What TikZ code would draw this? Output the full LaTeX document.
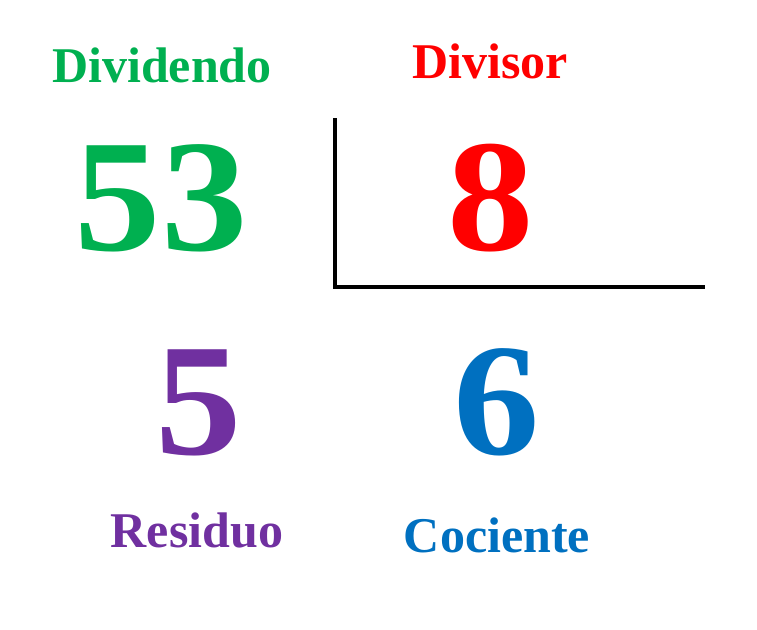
\documentclass[tikz,border=0pt]{standalone}
\usepackage{fontspec}
\setmainfont{Liberation Serif}
\definecolor{cgreen}{HTML}{00B050}
\definecolor{cred}{HTML}{FF0000}
\definecolor{cpurple}{HTML}{7030A0}
\definecolor{cblue}{HTML}{0070C0}
\begin{document}
\begin{tikzpicture}[x=1pt,y=-1pt,
  lbl/.style={inner sep=0pt,anchor=base,font=\fontsize{50}{50}\selectfont\bfseries},
  big/.style={inner sep=0pt,anchor=base,xscale=1.08,font=\fontsize{160}{160}\selectfont\bfseries},
  bar/.style={line width=4pt}]
\useasboundingbox (0,0) rectangle (757,629);
\node[lbl,text=cgreen] (dvd) at (162,82) {Dividendo};
\node[lbl,text=cred] (dvs) at (490,78) {Divisor};
\node[big,text=cgreen] (n53) at (161,250) {53};
\node[big,text=cred] (n8) at (491,250) {8};
\node[big,text=cpurple] (n5) at (199,454) {5};
\node[big,text=cblue] (n6) at (497,454) {6};
\node[lbl,text=cpurple] (res) at (197,547) {Residuo};
\node[lbl,text=cblue] (coc) at (497,552) {Cociente};
\coordinate (vt) at (335,118);
\coordinate (corner) at (335,287);
\coordinate (hr) at (705,287);
\draw[bar] (vt) -- (corner) -- (hr);
\end{tikzpicture}
\end{document}
